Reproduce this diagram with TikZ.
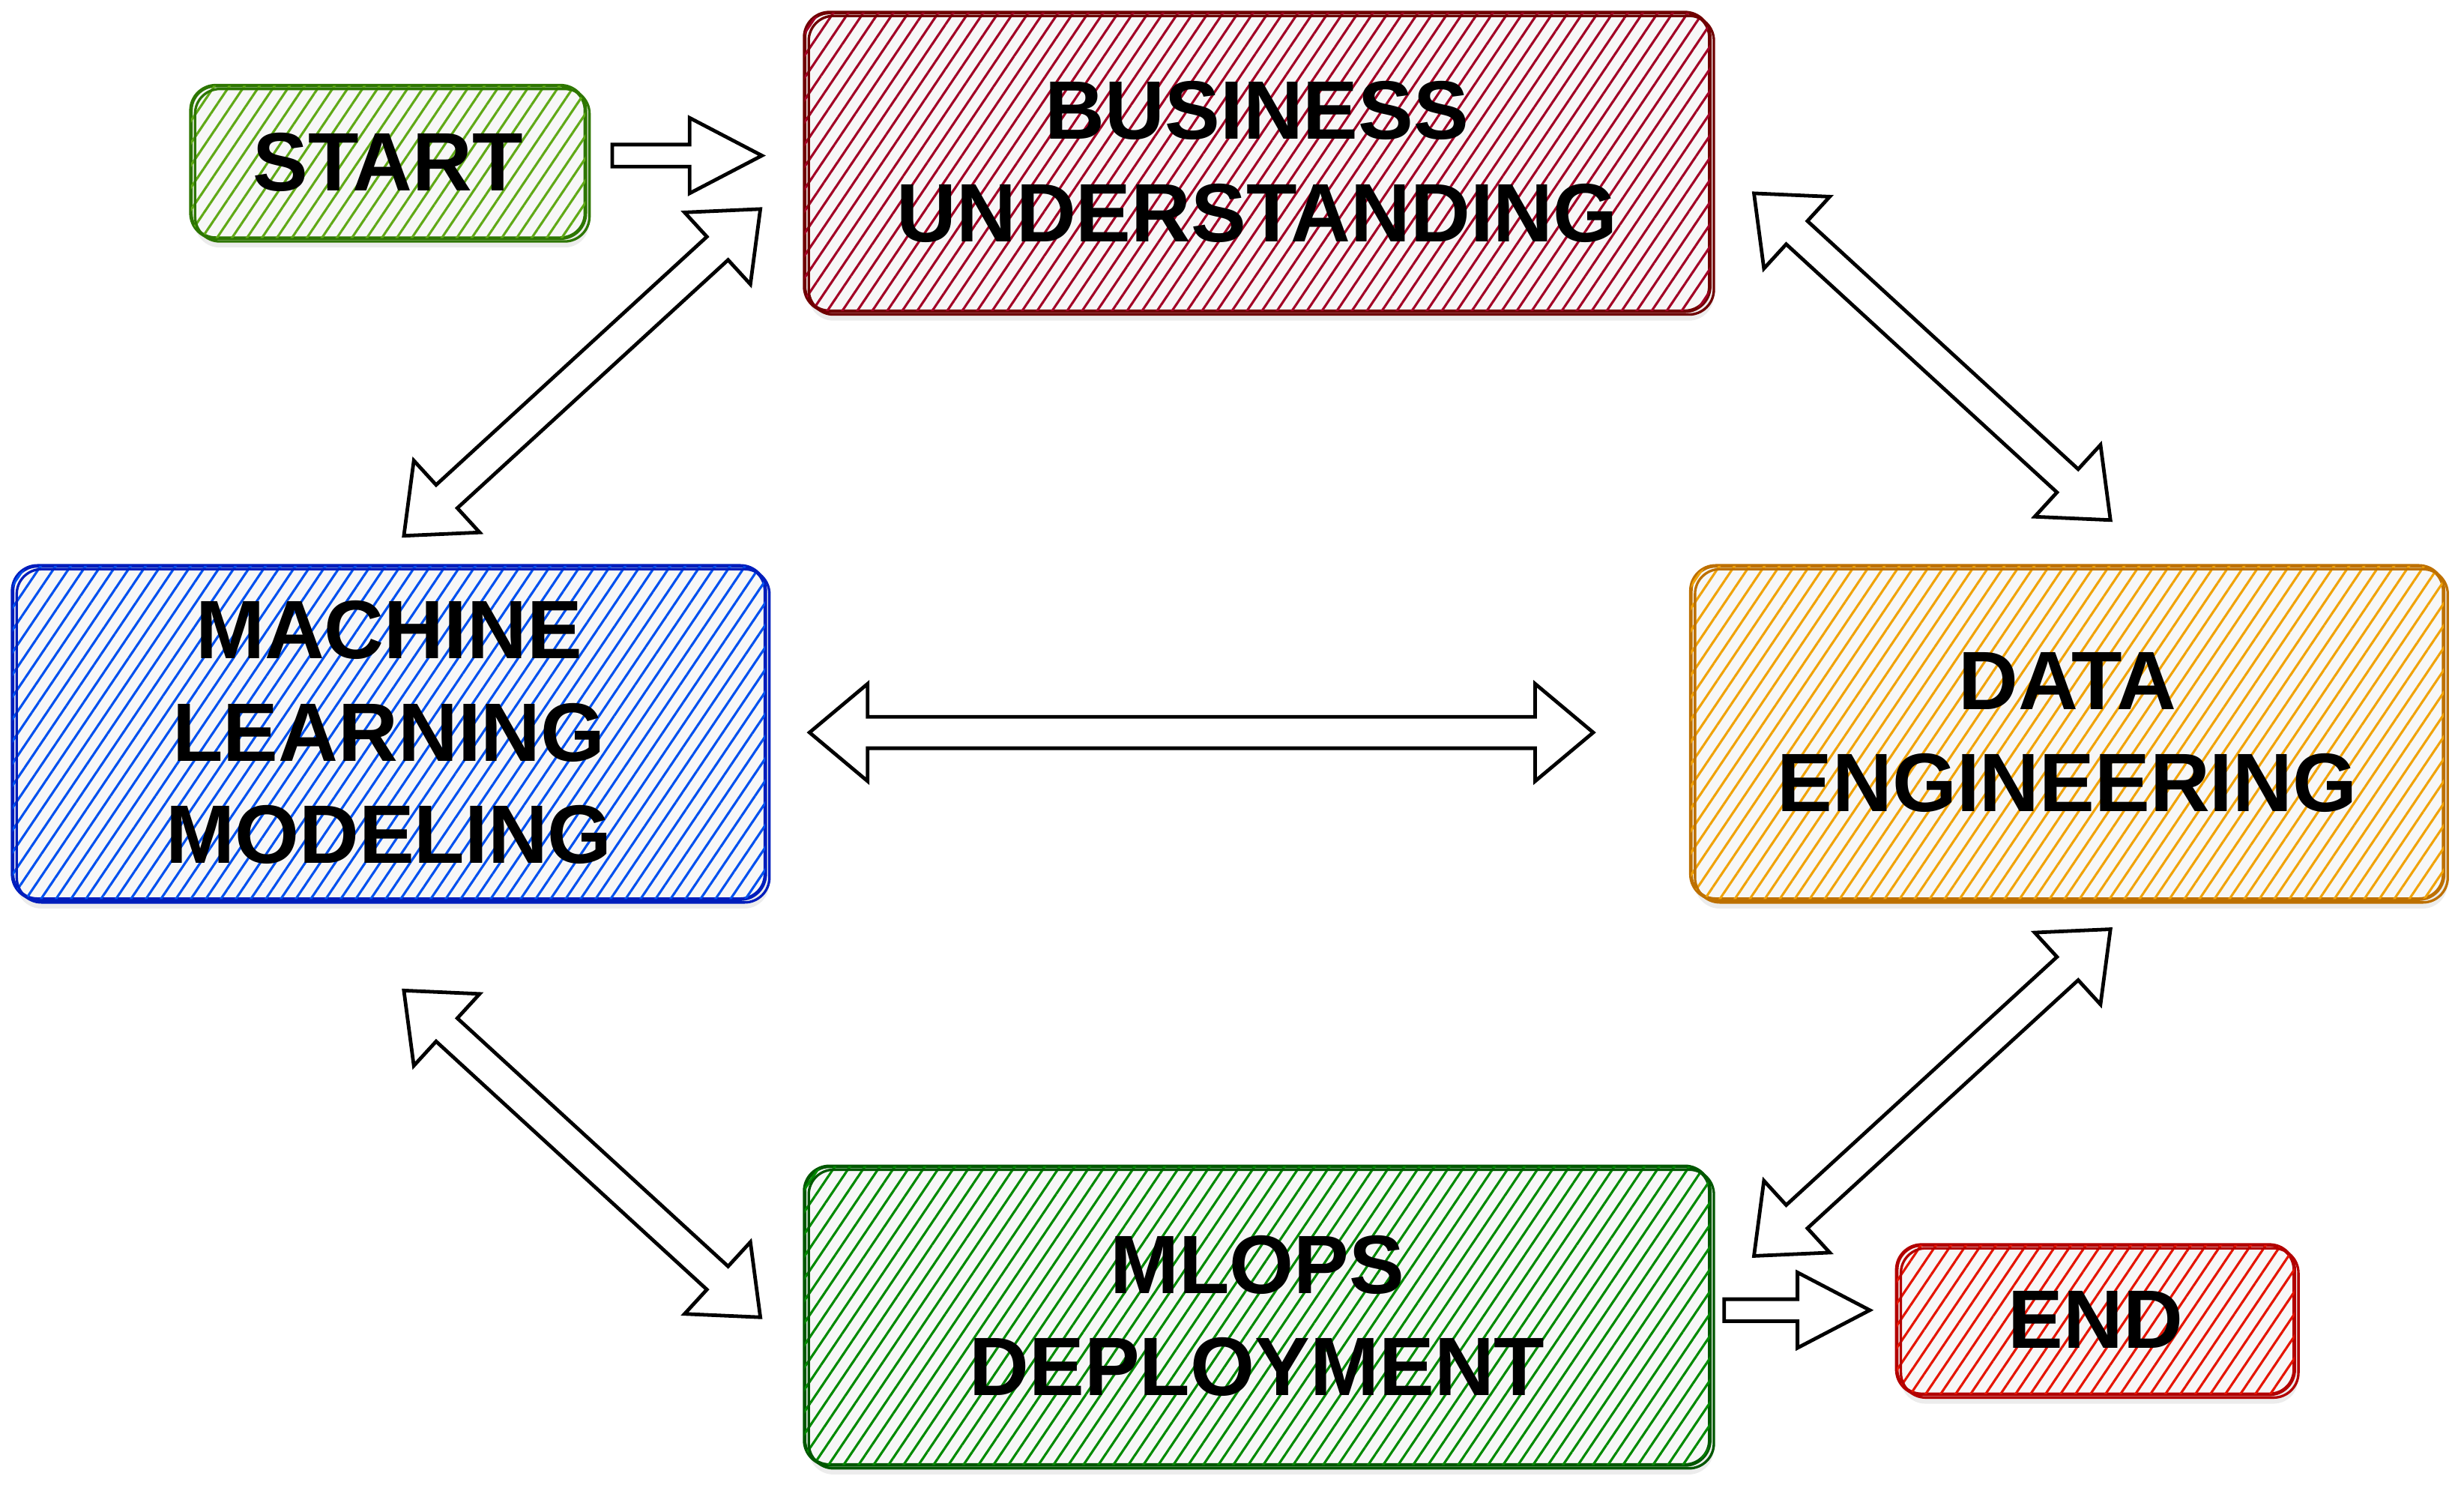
\documentclass[tikz,border=0pt]{standalone}
\usepackage{fontspec}
\setmainfont{Liberation Sans}
\usetikzlibrary{calc,patterns.meta,shadows}

\definecolor{startfill}{HTML}{60A917}
\definecolor{startline}{HTML}{2D7600}
\definecolor{busfill}{HTML}{A20025}
\definecolor{busline}{HTML}{6F0000}
\definecolor{mlfill}{HTML}{0050EF}
\definecolor{mlline}{HTML}{001DBC}
\definecolor{defill}{HTML}{F0A30A}
\definecolor{deline}{HTML}{BD7000}
\definecolor{opsfill}{HTML}{008A00}
\definecolor{opsline}{HTML}{005700}
\definecolor{endfill}{HTML}{E51400}
\definecolor{endline}{HTML}{B20000}

\tikzset{
  stage/.style 2 args={draw=#2, fill=gray!6, rounded corners=9pt, line width=1.3pt,
    align=center, inner sep=0pt, font=\bfseries\fontsize{30}{37}\selectfont,
    drop shadow={opacity=0.15, shadow xshift=0.05cm, shadow yshift=-0.12cm},
    postaction={pattern={Lines[angle=56,distance=4.5pt,line width=0.85pt]}, pattern color=#1},
    postaction={draw=#2, line width=0.9pt, transform canvas={xshift=1.5pt,yshift=-1.2pt}}},
  blockarrow/.style={draw=black, fill=white, line width=1.3pt, line join=miter},
}

% double block arrow between two points
\newcommand{\twoway}[2]{%
  \path ($(#1)!0.74cm!(#2)$) coordinate (ha) ($(#2)!0.74cm!(#1)$) coordinate (hb);
  \draw[blockarrow] (#1) -- ($(ha)!0.62cm!90:(#2)$) -- ($(ha)!0.2cm!90:(#2)$)
    -- ($(hb)!0.2cm!-90:(#1)$) -- ($(hb)!0.62cm!-90:(#1)$) -- (#2)
    -- ($(hb)!0.62cm!90:(#1)$) -- ($(hb)!0.2cm!90:(#1)$)
    -- ($(ha)!0.2cm!-90:(#2)$) -- ($(ha)!0.62cm!-90:(#2)$) -- cycle;}
% single block arrow from #1 to #2
\newcommand{\oneway}[2]{%
  \path ($(#2)!0.92cm!(#1)$) coordinate (hb);
  \draw[blockarrow] ($(#1)!0.14cm!90:(#2)$) -- ($(hb)!0.14cm!-90:(#1)$)
    -- ($(hb)!0.48cm!-90:(#1)$) -- (#2) -- ($(hb)!0.48cm!90:(#1)$)
    -- ($(hb)!0.14cm!90:(#1)$) -- ($(#1)!0.14cm!-90:(#2)$) -- cycle;}

\begin{document}
\begin{tikzpicture}
  \useasboundingbox (0,0) rectangle (31.36,19);
  \node[stage={startfill}{startline}, minimum width=5.02cm, minimum height=1.94cm] (start) at (4.94,16.94) {START};
  \node[stage={busfill}{busline}, minimum width=11.52cm, minimum height=3.8cm] (bus) at (16,16.94) {BUSINESS\\UNDERSTANDING};
  \node[stage={mlfill}{mlline}, minimum width=9.58cm, minimum height=4.24cm] (mlm) at (4.95,9.68) {MACHINE\\LEARNING\\MODELING};
  \node[stage={defill}{deline}, minimum width=9.58cm, minimum height=4.24cm] (deng) at (26.31,9.68) {DATA\\ENGINEERING};
  \node[stage={opsfill}{opsline}, minimum width=11.52cm, minimum height=3.8cm] (mlops) at (16,2.26) {MLOPS\\DEPLOYMENT};
  \node[stage={endfill}{endline}, minimum width=5.06cm, minimum height=1.9cm] (stop) at (26.67,2.21) {END};

  % arrow ends
  \coordinate (s-b1) at ($(start.east)+(0.32,0.08)$);
  \coordinate (s-b2) at ($(bus.west)+(-0.52,0.08)$);
  \coordinate (b-m1) at ($(bus.west)+(-0.54,-0.6)$);
  \coordinate (b-m2) at ($(mlm.north)+(0.19,0.36)$);
  \coordinate (b-d1) at ($(bus.east)+(0.54,-0.4)$);
  \coordinate (b-d2) at ($(deng.north)+(0.55,0.56)$);
  \coordinate (m-d1) at ($(mlm.east)+(0.54,0)$);
  \coordinate (m-d2) at ($(deng.west)+(-1.22,0)$);
  \coordinate (m-o1) at ($(mlm.south)+(0.19,-1.14)$);
  \coordinate (m-o2) at ($(mlops.west)+(-0.54,-0.02)$);
  \coordinate (d-o1) at ($(deng.south)+(0.55,-0.36)$);
  \coordinate (d-o2) at ($(mlops.east)+(0.54,0.76)$);
  \coordinate (o-e1) at ($(mlops.east)+(0.16,0.07)$);
  \coordinate (o-e2) at ($(stop.west)+(-0.32,0.12)$);

  \oneway{s-b1}{s-b2}
  \twoway{b-m1}{b-m2}
  \twoway{b-d1}{b-d2}
  \twoway{m-d1}{m-d2}
  \twoway{m-o1}{m-o2}
  \twoway{d-o1}{d-o2}
  \oneway{o-e1}{o-e2}
\end{tikzpicture}
\end{document}
